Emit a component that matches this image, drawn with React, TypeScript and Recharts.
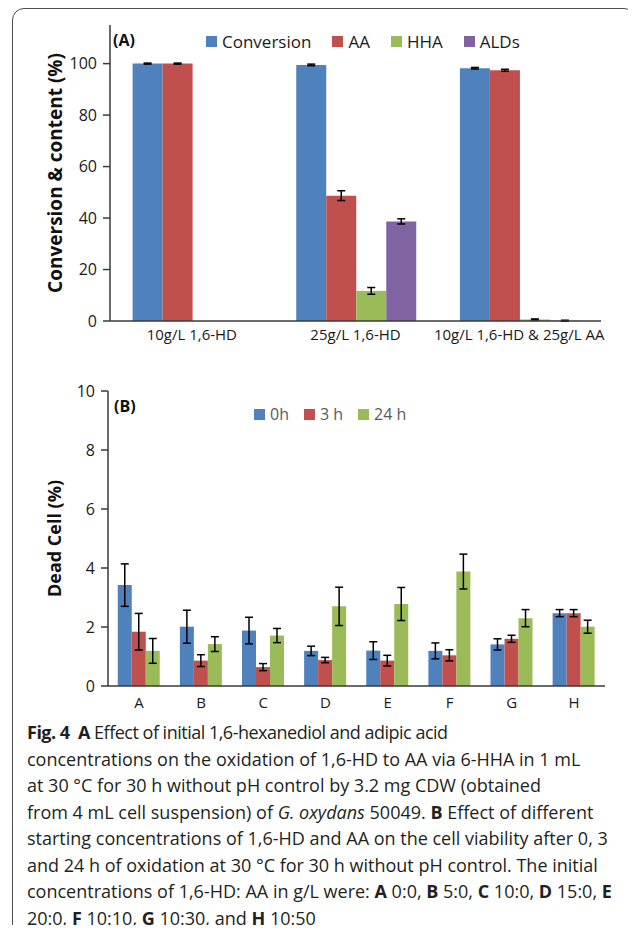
import { BarChart, Bar, XAxis, YAxis, ErrorBar, Legend } from 'recharts'

// (A) conversion & product content
const groupsA = ['10g/L 1,6-HD', '25g/L 1,6-HD', '10g/L 1,6-HD & 25g/L AA']
const conversion = [100, 99.5, 98.2]
const conversionErr = [0.2, 0.3, 0.3]
const aa = [100, 48.7, 97.4]
const aaErr = [0.2, 1.9, 0.4]
const hha = [0, 11.7, 0.6]
const hhaErr = [0, 1.3, 0.2]
const alds = [0, 38.7, 0.1]
const aldsErr = [0, 1.0, 0.2]
const ticksA = [0, 20, 40, 60, 80, 100]
const seriesA = ['Conversion', 'AA', 'HHA', 'ALDs']

// (B) dead cells
const samples = ['A', 'B', 'C', 'D', 'E', 'F', 'G', 'H']
const h0 = [3.42, 2.01, 1.88, 1.19, 1.2, 1.19, 1.41, 2.47]
const h0Err = [0.72, 0.56, 0.45, 0.16, 0.3, 0.27, 0.19, 0.12]
const h3 = [1.84, 0.86, 0.64, 0.88, 0.86, 1.04, 1.6, 2.47]
const h3Err = [0.62, 0.2, 0.12, 0.09, 0.18, 0.19, 0.12, 0.12]
const h24 = [1.19, 1.42, 1.71, 2.7, 2.78, 3.88, 2.3, 2.01]
const h24Err = [0.42, 0.25, 0.24, 0.65, 0.56, 0.59, 0.29, 0.22]
const ticksB = [0, 2, 4, 6, 8, 10]
const seriesB = ['0h', '3 h', '24 h']

const BLUE = '#4f81bd'
const RED = '#c0504d'
const GREEN = '#9bbb59'
const PURPLE = '#8064a2'
const AXIS = { stroke: '#3a3a3a', strokeWidth: 1.5 }

const dataA = groupsA.map((name, i) => ({
  name,
  conversion: conversion[i], conversionErr: conversionErr[i],
  aa: aa[i], aaErr: aaErr[i],
  hha: hha[i], hhaErr: hhaErr[i],
  alds: alds[i], aldsErr: aldsErr[i],
}))

const dataB = samples.map((name, i) => ({
  name,
  h0: h0[i], h0Err: h0Err[i],
  h3: h3[i], h3Err: h3Err[i],
  h24: h24[i], h24Err: h24Err[i],
}))

const AxisTitle = ({ x, y, value, size }: any) => (
  <text x={x} y={y} transform={`rotate(-90 ${x} ${y})`} textAnchor="middle" dominantBaseline="central"
    fontSize={size} fontWeight={700} fill="#111">{value}</text>
)

// legend keeps the series order (recharts sorts by name otherwise)
const legendRow = (order: string[], gap: number, fontSize: number, color: string) => ({ payload }: any) => {
  const items = [...(payload || [])].sort((a: any, b: any) => order.indexOf(a.value) - order.indexOf(b.value))
  return (
    <div style={{ display: 'flex', alignItems: 'center', whiteSpace: 'nowrap' }}>
      {items.map((p: any) => (
        <div key={p.value} style={{ display: 'flex', alignItems: 'center', marginRight: gap }}>
          <span style={{ width: 11, height: 11, background: p.color, marginRight: 5 }} />
          <span style={{ fontSize, color, lineHeight: 1 }}>{p.value}</span>
        </div>
      ))}
    </div>
  )
}

const tag = { position: 'absolute' as const, fontWeight: 700, fontSize: 16, color: '#111' }

export default function App() {
  return (
    <div style={{ position: 'relative', width: 636, height: 933, margin: -8, overflow: 'hidden', background: '#fff', fontFamily: '"Open Sans", sans-serif' }}>
      <div style={{ position: 'absolute', left: 12, top: 8, width: 622, height: 940, border: '1px solid #4d4d4d', borderRadius: 12 }} />

      {/* panel A */}
      <div style={{ position: 'absolute', left: 0, top: 0 }}>
        <BarChart width={636} height={360} data={dataA} margin={{ top: 25, right: 35, bottom: 0, left: 0 }}
          barCategoryGap="13.8%" barGap={0}>
          <XAxis dataKey="name" height={39} interval={0} tickLine={false} axisLine={AXIS}
            tick={{ fill: '#1a1a1a', fontSize: 15 }} tickSize={6} />
          <XAxis xAxisId="top" dataKey="name" orientation="top" height={0} tick={false} tickLine={false} axisLine={AXIS} />
          <YAxis width={110} domain={[0, 115]} ticks={ticksA} tickSize={7} tickMargin={6} axisLine={AXIS}
            tickLine={AXIS} tick={{ fill: '#1a1a1a', fontSize: 16 }} allowDataOverflow
            label={<AxisTitle x={47} y={183} size={19} value="Conversion & content (%)" />} />
          <YAxis yAxisId="r" orientation="right" width={0} tick={false} tickLine={false} axisLine={AXIS} />
          <Legend verticalAlign="middle" layout="horizontal" wrapperStyle={{ top: 33, left: 206, width: 'auto' }}
            content={legendRow(seriesA, 21, 17, '#1a1a1a')} />
          <Bar dataKey="conversion" name={seriesA[0]} fill={BLUE} isAnimationActive={false}>
            <ErrorBar dataKey="conversionErr" width={4} stroke="#000" strokeWidth={1.5} />
          </Bar>
          <Bar dataKey="aa" name={seriesA[1]} fill={RED} isAnimationActive={false}>
            <ErrorBar dataKey="aaErr" width={4} stroke="#000" strokeWidth={1.5} />
          </Bar>
          <Bar dataKey="hha" name={seriesA[2]} fill={GREEN} isAnimationActive={false}>
            <ErrorBar dataKey="hhaErr" width={4} stroke="#000" strokeWidth={1.5} />
          </Bar>
          <Bar dataKey="alds" name={seriesA[3]} fill={PURPLE} isAnimationActive={false}>
            <ErrorBar dataKey="aldsErr" width={4} stroke="#000" strokeWidth={1.5} />
          </Bar>
        </BarChart>
        <div style={{ ...tag, left: 113, top: 29 }}>(A)</div>
      </div>

      {/* panel B */}
      <div style={{ position: 'absolute', left: 0, top: 360 }}>
        <BarChart width={636} height={360} data={dataB} margin={{ top: 31, right: 31, bottom: 0, left: 0 }}
          barCategoryGap="15.7%" barGap={0}>
          <XAxis dataKey="name" height={34} interval={0} tickLine={false} axisLine={AXIS}
            tick={{ fill: '#1a1a1a', fontSize: 15 }} tickSize={9} />
          <XAxis xAxisId="top" dataKey="name" orientation="top" height={0} tick={false} tickLine={false} axisLine={AXIS} />
          <YAxis width={108} domain={[0, 10]} ticks={ticksB} tickSize={7} tickMargin={6} axisLine={AXIS}
            tickLine={AXIS} tick={{ fill: '#1a1a1a', fontSize: 16 }}
            label={<AxisTitle x={57} y={184} size={18} value="Dead Cell (%)" />} />
          <YAxis yAxisId="r" orientation="right" width={0} tick={false} tickLine={false} axisLine={AXIS} />
          <Legend verticalAlign="middle" layout="horizontal" wrapperStyle={{ top: 46, left: 254, width: 'auto' }}
            content={legendRow(seriesB, 15, 16, '#595959')} />
          <Bar dataKey="h0" name={seriesB[0]} fill={BLUE} isAnimationActive={false}>
            <ErrorBar dataKey="h0Err" width={4} stroke="#000" strokeWidth={1.5} />
          </Bar>
          <Bar dataKey="h3" name={seriesB[1]} fill={RED} isAnimationActive={false}>
            <ErrorBar dataKey="h3Err" width={4} stroke="#000" strokeWidth={1.5} />
          </Bar>
          <Bar dataKey="h24" name={seriesB[2]} fill={GREEN} isAnimationActive={false}>
            <ErrorBar dataKey="h24Err" width={4} stroke="#000" strokeWidth={1.5} />
          </Bar>
        </BarChart>
        <div style={{ ...tag, left: 114, top: 35 }}>(B)</div>
      </div>

      {/* caption */}
      <div style={{ position: 'absolute', left: 27, top: 719, fontSize: 18, lineHeight: '26.5px', color: '#231f20', whiteSpace: 'nowrap' }}>
        <div style={{ letterSpacing: -0.5 }}><b>Fig. 4</b>&nbsp; <b>A</b> Effect of initial 1,6-hexanediol and adipic acid</div>
        <div>concentrations on the oxidation of 1,6-HD to AA via 6-HHA in 1 mL</div>
        <div>at 30 °C for 30 h without pH control by 3.2 mg CDW (obtained</div>
        <div>from 4 mL cell suspension) of <i>G. oxydans</i> 50049. <b>B</b> Effect of different</div>
        <div>starting concentrations of 1,6-HD and AA on the cell viability after 0, 3</div>
        <div>and 24 h of oxidation at 30 °C for 30 h without pH control. The initial</div>
        <div>concentrations of 1,6-HD: AA in g/L were: <b>A</b> 0:0, <b>B</b> 5:0, <b>C</b> 10:0, <b>D</b> 15:0, <b>E</b></div>
        <div>20:0, <b>F</b> 10:10, <b>G</b> 10:30, and <b>H</b> 10:50</div>
      </div>
    </div>
  )
}
